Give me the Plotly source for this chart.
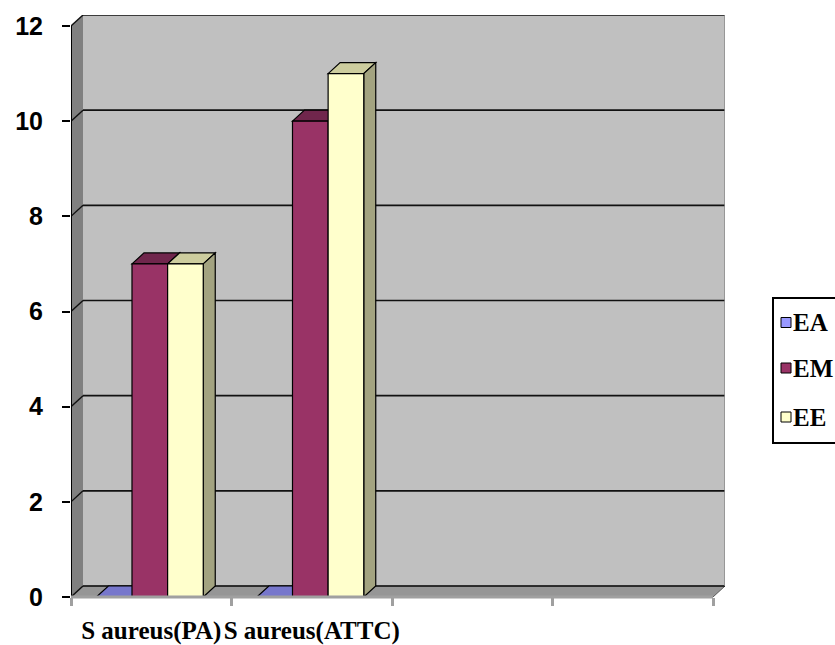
import plotly.graph_objects as go

# Data
categories = ["S aureus(PA)", "S aureus(ATTC)"]
n_slots = 4  # category slots on the x axis (two are empty)
series_names = ["EA", "EM", "EE"]
series_values = [
    [0, 0],    # EA
    [7, 10],   # EM
    [7, 11],   # EE
]
y_ticks = [0, 2, 4, 6, 8, 10, 12]

# Styles
front_colors = ["#9999FF", "#993366", "#FFFFCC"]
top_colors = ["#7777CC", "#70264C", "#CDCD9E"]
side_colors = ["#6B6BB3", "#6B2447", "#A3A380"]
wall_color = "#C0C0C0"
side_wall_color = "#808080"
floor_color = "#969696"

# Geometry of the 3D box, in axis units
W, H = 835, 645
ml, mr, mt, mb = 71, 110, 15, 48
plot_w = W - ml - mr
plot_h = H - mt - mb
depth_px_x, depth_px_y = 12, 11
x_max = n_slots + depth_px_x * n_slots / (plot_w - depth_px_x)
x_unit = plot_w / x_max
dx = depth_px_x / x_unit
y_top = max(y_ticks)
y_max = y_top * plot_h / (plot_h - depth_px_y)
y_unit = plot_h / y_max
dy = depth_px_y / y_unit

bar_w = 0.222
group_w = bar_w * len(series_names)
first_offset = -group_w / 2 - 0.009

fig = go.Figure()

shapes = []

def poly(pts, fill, line_color=None, lw=0, layer="below"):
    path = "M " + " L ".join(f"{x},{y}" for x, y in pts) + " Z"
    shapes.append(dict(type="path", path=path, xref="x", yref="y",
                       fillcolor=fill, layer=layer,
                       line=dict(color=line_color or fill, width=lw)))

def seg(x0, y0, x1, y1, color, lw, layer="below", xref="x", yref="y"):
    shapes.append(dict(type="line", x0=x0, y0=y0, x1=x1, y1=y1,
                       xref=xref, yref=yref, layer=layer,
                       line=dict(color=color, width=lw)))

# Back wall, side wall and floor
poly([(dx, dy), (x_max, dy), (x_max, y_max), (dx, y_max)], wall_color)
poly([(0, 0), (dx, dy), (dx, y_max), (0, y_top)], side_wall_color)
poly([(0, 0), (n_slots, 0), (x_max, dy), (dx, dy)], floor_color, "#5A5A5A", 1)

# Grid lines on back and side walls
for v in y_ticks:
    seg(dx, v + dy, x_max, v + dy, "#111111", 1.6)
    seg(0, v, dx, v + dy, "#111111", 1.4)
seg(x_max, dy, x_max, y_max, "#8A8A8A", 1.5)

# Top and side faces of the bars (front faces are the Bar traces)
for si, vals in enumerate(series_values):
    for ci, v in enumerate(vals):
        xl = ci + 0.5 + first_offset + si * bar_w
        xr = xl + bar_w
        poly([(xl, v), (xl + dx, v + dy), (xr + dx, v + dy), (xr, v)],
             top_colors[si], "#000000", 1.2)
        poly([(xr, 0), (xr + dx, dy), (xr + dx, v + dy), (xr, v)],
             side_colors[si], "#000000", 1.2)

# Bars (front faces)
for si, (name, vals) in enumerate(zip(series_names, series_values)):
    fig.add_trace(go.Bar(
        x=[ci + 0.5 for ci in range(len(categories))],
        y=vals,
        name=name,
        width=bar_w,
        offset=first_offset + si * bar_w,
        marker=dict(color=front_colors[si], line=dict(color="#000000", width=1.2)),
        showlegend=False,
        hoverinfo="skip",
    ))

# Axis lines
seg(0, 0, 0, y_top, "#000000", 2, layer="above")
seg(0, 0, n_slots, 0, "#A0A0A0", 3, layer="above", yref="paper")

# Legend box
def px_x(p):
    return (p - ml) / plot_w

def px_y(p):
    return (H - mb - p) / plot_h

shapes.append(dict(type="rect", xref="paper", yref="paper",
                   x0=px_x(773), x1=px_x(845), y0=px_y(443), y1=px_y(298),
                   fillcolor="#FFFFFF", line=dict(color="#000000", width=2),
                   layer="above"))
legend_rows = [322.5, 368, 417]
annotations = []
for si, name in enumerate(series_names):
    cy = legend_rows[si]
    shapes.append(dict(type="rect", xref="paper", yref="paper",
                       x0=px_x(781), x1=px_x(791), y0=px_y(cy + 5), y1=px_y(cy - 5),
                       fillcolor=front_colors[si], line=dict(color="#000000", width=1),
                       layer="above"))
    annotations.append(dict(xref="paper", yref="paper", x=px_x(791), y=px_y(cy),
                            xanchor="left", yanchor="middle", text=name,
                            showarrow=False,
                            font=dict(family="Liberation Serif, Times New Roman, serif",
                                      size=25, color="#000000", weight="bold")))

fig.update_layout(
    width=W, height=H,
    margin=dict(l=ml, r=mr, t=mt, b=mb, autoexpand=False),
    paper_bgcolor="#FFFFFF",
    plot_bgcolor="#FFFFFF",
    barmode="overlay",
    shapes=shapes,
    annotations=annotations,
    xaxis=dict(
        range=[0, x_max],
        tickvals=[ci + 0.5 for ci in range(len(categories))],
        ticktext=categories,
        ticks="",
        showgrid=False, zeroline=False, showline=False,
        ticklabelstandoff=16,
        tickfont=dict(family="Liberation Serif, Times New Roman, serif",
                      size=25, color="#000000", weight="bold"),
        minor=dict(tickvals=list(range(n_slots + 1)), ticks="outside",
                   ticklen=8, tickwidth=3, tickcolor="#A0A0A0", showgrid=False),
        fixedrange=True,
    ),
    yaxis=dict(
        range=[0, y_max],
        tickvals=y_ticks,
        ticks="outside", ticklen=8, tickwidth=2, tickcolor="#000000",
        showgrid=False, zeroline=False, showline=False,
        ticklabelstandoff=14,
        tickfont=dict(family="Liberation Sans, Arial, sans-serif",
                      size=25, color="#000000", weight="bold"),
        fixedrange=True,
    ),
)

fig.write_html("out.html")
